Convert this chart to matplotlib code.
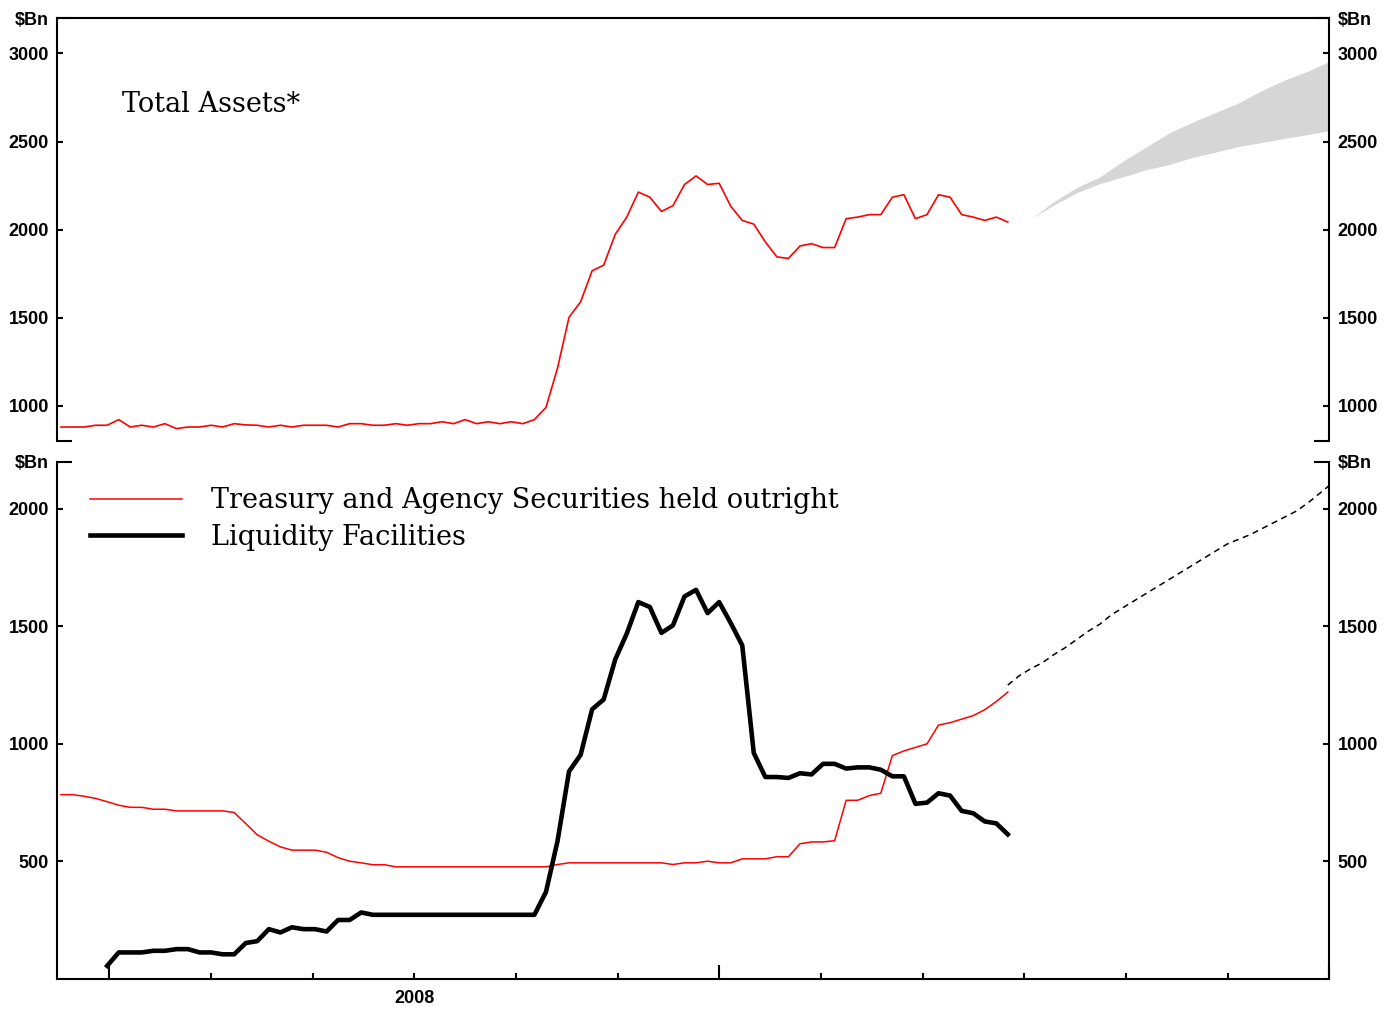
import numpy as np
import matplotlib.pyplot as plt

plt.rcParams['font.family'] = ['Liberation Sans', 'DejaVu Sans']
plt.rcParams['font.weight'] = 'bold'

# Weekly Wednesday levels, $Bn (83 weeks)
total_assets = [879, 879, 879, 889, 889, 921, 879, 889, 879, 898,
                870, 879, 879, 889, 879, 898, 891, 889, 879, 889,
                879, 889, 889, 889, 879, 898, 898, 889, 889, 898,
                889, 898, 898, 909, 898, 921, 898, 909, 898, 909,
                898, 921, 990, 1213, 1502, 1590, 1766, 1798, 1973, 2071,
                2213, 2184, 2103, 2136, 2256, 2305, 2256, 2263, 2133, 2052,
                2031, 1930, 1845, 1836, 1907, 1920, 1898, 1898, 2062, 2071,
                2085, 2085, 2184, 2198, 2062, 2085, 2198, 2184, 2085, 2071,
                2052, 2071, 2043]

treasury_agency = [784, 784, 777, 768, 754, 739, 730, 730, 722, 722,
                   715, 715, 715, 715, 715, 708, 661, 613, 586, 562,
                   548, 548, 548, 539, 516, 501, 494, 486, 486, 477,
                   477, 477, 477, 477, 477, 477, 477, 477, 477, 477,
                   477, 477, 477, 487, 494, 494, 494, 494, 494, 494,
                   494, 494, 494, 487, 494, 494, 501, 494, 494, 511,
                   511, 511, 520, 520, 575, 583, 583, 588, 760, 760,
                   780, 790, 950, 970, 985, 1000, 1080, 1090, 1105, 1120,
                   1145, 1180, 1220]

liquidity = [np.nan, np.nan, np.nan, np.nan, 56, 113, 113, 113, 120, 120,
             127, 127, 113, 113, 105, 105, 153, 161, 212, 198,
             220, 212, 212, 202, 251, 251, 283, 273, 273, 273,
             273, 273, 273, 273, 273, 273, 273, 273, 273, 273,
             273, 273, 370, 586, 883, 953, 1147, 1189, 1359, 1469,
             1603, 1582, 1472, 1504, 1627, 1655, 1556, 1603, 1514, 1419,
             961, 859, 859, 855, 875, 870, 915, 915, 895, 900,
             900, 890, 862, 862, 745, 750, 790, 780, 715, 705,
             670, 662, 615]

# projection of securities holdings, weeks 82..110
proj_weeks = list(range(82, 111))
proj_securities = [1250, 1290, 1320, 1345, 1380, 1410, 1445, 1480, 1510, 1550,
                   1580, 1610, 1640, 1670, 1700, 1730, 1760, 1790, 1820, 1850,
                   1870, 1890, 1915, 1940, 1965, 1990, 2025, 2065, 2105]

# projected range of total assets
band_weeks = [84, 86, 88, 90, 92, 94, 96, 98, 100, 102, 104, 106, 108, 110]
band_high = [2062, 2160, 2240, 2300, 2390, 2470, 2550, 2610, 2665, 2720,
             2790, 2850, 2900, 2960]
band_low = [2062, 2140, 2210, 2262, 2300, 2340, 2370, 2410, 2440, 2472,
            2495, 2518, 2540, 2563]

weeks = np.arange(len(total_assets))

# calendar ticks expressed in weeks since first observation
jan08 = 4.18
wpm = 4.4026
year_ticks = [jan08 + 12 * k * wpm for k in range(3)]
month_ticks = [jan08 + m * wpm for m in range(2, 24, 2) if m != 12]
month_labels = ['2008' if m == 6 else '' for m in range(2, 24, 2) if m != 12]

serif = {'family': 'DejaVu Serif', 'weight': 'normal', 'size': 19.5}

fig = plt.figure(figsize=(13.85, 10.09), dpi=100)
ax1 = fig.add_axes([0.04137, 0.5630, 0.91841, 0.4189])
ax2 = fig.add_axes([0.04137, 0.02973, 0.91841, 0.5127])

for ax in (ax1, ax2):
    ax.set_xlim(-0.32, year_ticks[-1])
    for s in ax.spines.values():
        s.set_linewidth(1.5)
    ax.tick_params(axis='y', which='both', direction='in', left=True, right=True,
                   labelleft=True, labelright=True, width=1.5, labelsize=13, pad=6)
    ax.tick_params(axis='y', which='major', length=4.5)
    ax.tick_params(axis='y', which='minor', length=10.5)

# top panel
ax1.fill_between(band_weeks, band_low, band_high, color='#d6d6d6', lw=0)
ax1.plot(weeks, total_assets, color='red', lw=1.2)
ax1.set_ylim(800, 3200)
ax1.set_yticks([1000, 1500, 2000, 2500, 3000])
ax1.set_yticks([800, 3200], ['', r'\$Bn'], minor=True)
ax1.set_xticks([])
ax1.spines['bottom'].set_visible(False)
ax1.text(0.0509, 0.778, 'Total Assets*', transform=ax1.transAxes,
         va='baseline', ha='left', fontdict=serif)

# bottom panel
ax2.plot(weeks, treasury_agency, color='red', lw=1.1,
         label='Treasury and Agency Securities held outright')
ax2.plot(weeks, liquidity, color='black', lw=3.3, label='Liquidity Facilities')
ax2.plot(proj_weeks, proj_securities, color='black', lw=1.1, ls=(0, (4, 3)))
ax2.set_ylim(0, 2200)
ax2.set_yticks([500, 1000, 1500, 2000])
ax2.set_yticks([2200], [r'\$Bn'], minor=True)
ax2.spines['top'].set_visible(False)

ax2.set_xticks(year_ticks, ['', '', ''])
ax2.set_xticks(month_ticks, month_labels, minor=True)
ax2.tick_params(axis='x', which='both', direction='in', width=1.5, labelsize=13, pad=8)
ax2.tick_params(axis='x', which='major', length=10)
ax2.tick_params(axis='x', which='minor', length=4.5)

ax2.legend(loc='upper left', bbox_to_anchor=(0.0257, 0.951), frameon=False,
           prop=serif, handlelength=3.4, handletextpad=1.07, labelspacing=0.36,
           borderpad=0, borderaxespad=0)

fig.savefig('out.png', dpi=100)
